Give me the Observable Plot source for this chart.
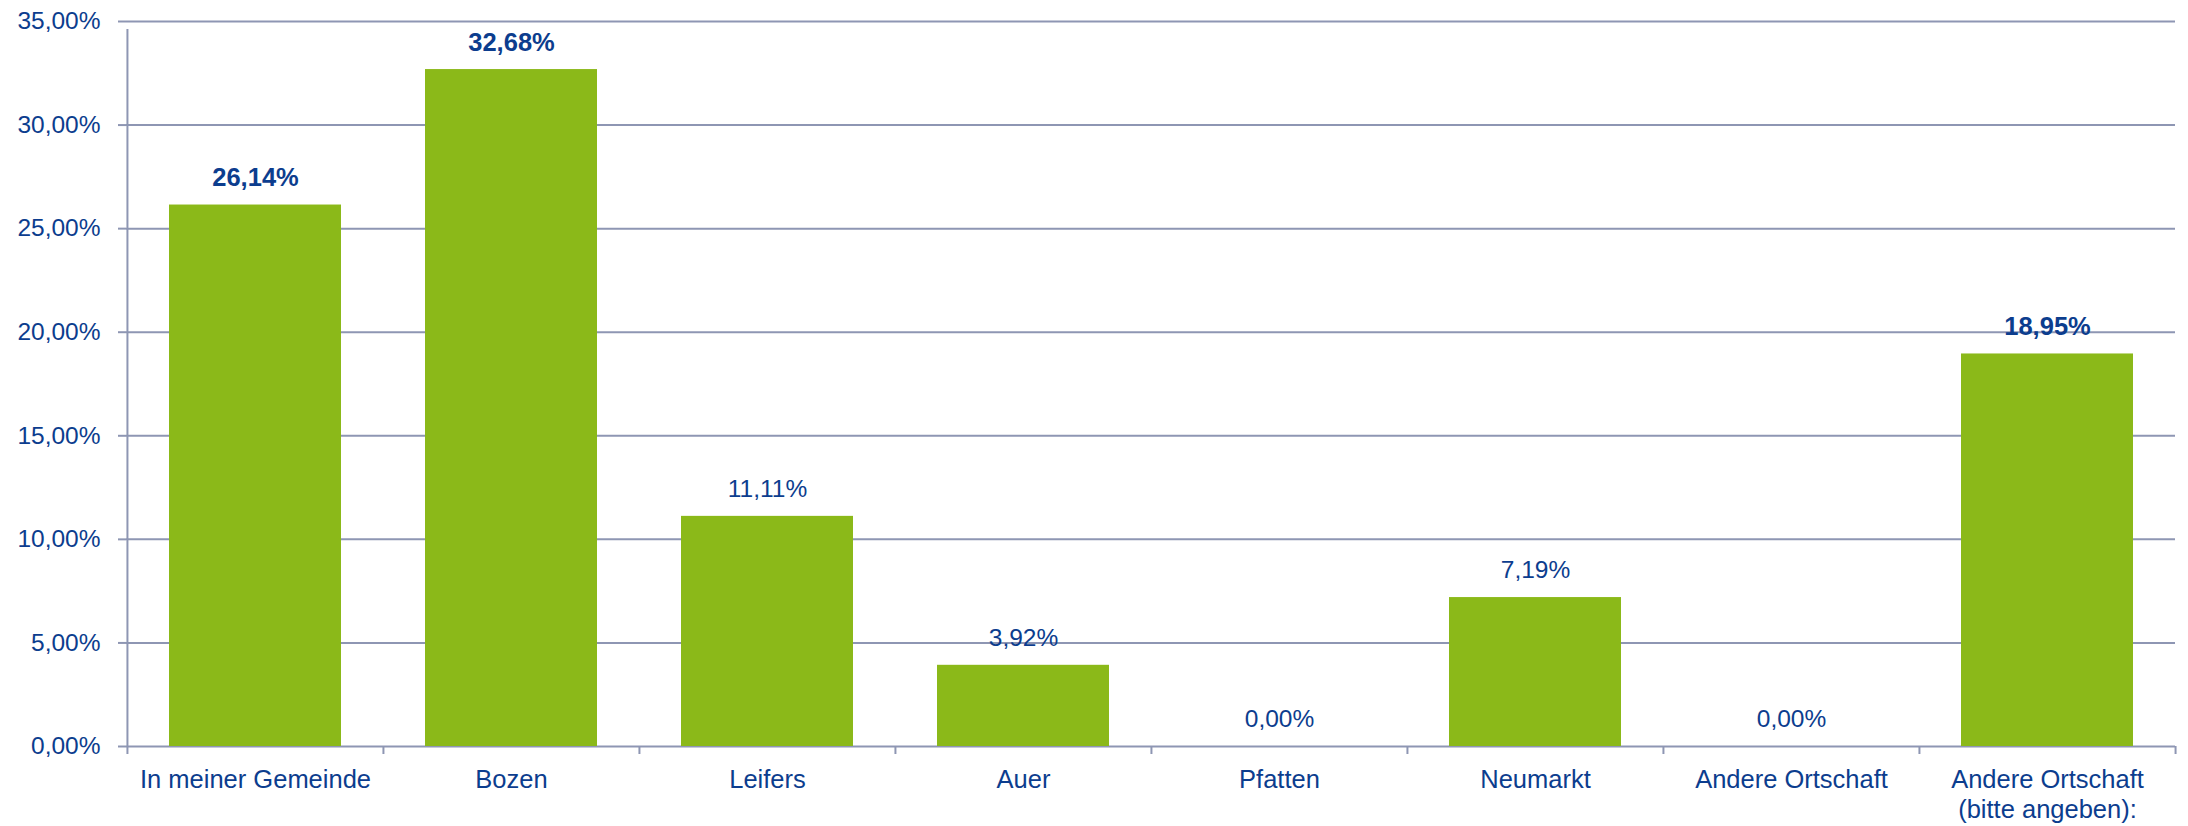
<!DOCTYPE html>
<html>
<head>
<meta charset="utf-8">
<script src="https://cdn.jsdelivr.net/npm/d3@7"></script>
<script src="https://cdn.jsdelivr.net/npm/@observablehq/plot@0.6"></script>
<style>
  html, body { margin: 0; padding: 0; background: #ffffff; }
  #chart { width: 2188px; height: 826px; }
</style>
</head>
<body>
<div id="chart"></div>
<script>
const categories = [
  "In meiner Gemeinde",
  "Bozen",
  "Leifers",
  "Auer",
  "Pfatten",
  "Neumarkt",
  "Andere Ortschaft",
  "Andere Ortschaft\n(bitte angeben):"
];
const values = [26.14, 32.68, 11.11, 3.92, 0.00, 7.19, 0.00, 18.95];
const boldLabel = [true, true, false, false, false, false, false, true];
const yTicks = [0, 5, 10, 15, 20, 25, 30, 35];

const data = categories.map((c, i) => ({ cat: c, value: values[i], bold: boldLabel[i] }));

const W = 2188, H = 826;
const mL = 126, mR = 13, mT = 21, mB = 80;
const step = (W - mL - mR) / categories.length;

const textColor = "#0C3D8E";
const gridColor = "#8E96B3";
const barColor = "#8BB919";
const fmt = v => v.toFixed(2).replace(".", ",") + "%";

const chart = Plot.plot({
  width: W,
  height: H,
  marginLeft: mL,
  marginRight: mR,
  marginTop: mT,
  marginBottom: mB,
  style: { fontFamily: "'Liberation Sans', Arial, sans-serif", color: textColor, background: "#ffffff" },
  x: { domain: categories, paddingInner: 0.33, paddingOuter: 0.165, label: null },
  y: { domain: [0, 35], label: null },
  marks: [
    Plot.ruleY(yTicks, { y: d => d, stroke: gridColor, strokeWidth: 2 }),
    Plot.axisY({
      ticks: yTicks, tickFormat: fmt, tickSize: 8, tickPadding: 18,
      stroke: gridColor, strokeWidth: 2, strokeOpacity: 1,
      fontSize: 24.5, fill: textColor, label: null
    }),
    Plot.barY(data, { x: "cat", y: "value", fill: barColor }),
    // band boundary ticks (left edges) and vertical axis line
    Plot.ruleX(data, { x: "cat", dx: -step / 2, y1: 0, y2: 0, insetBottom: -8, stroke: gridColor, strokeWidth: 2 }),
    Plot.ruleX(data.slice(-1), { x: "cat", dx: step / 2, y1: 0, y2: 0, insetBottom: -8, stroke: gridColor, strokeWidth: 2 }),
    Plot.ruleX(data.slice(0, 1), { x: "cat", dx: -step / 2, y1: 0, y2: 35, insetBottom: -8, stroke: gridColor, strokeWidth: 2 }),
    Plot.text(data.filter(d => !d.bold), {
      x: "cat", y: "value", text: d => fmt(d.value), dy: -27,
      fontSize: 24.5, fill: textColor
    }),
    Plot.text(data.filter(d => d.bold), {
      x: "cat", y: "value", text: d => fmt(d.value), dy: -27,
      fontSize: 25.5, fontWeight: "bold", fill: textColor
    }),
    Plot.axisX({
      tickSize: 0, tickPadding: 20, fontSize: 25.5, fill: textColor,
      lineHeight: 1.18, label: null
    })
  ]
});

document.getElementById("chart").appendChild(chart);
</script>
</body>
</html>
